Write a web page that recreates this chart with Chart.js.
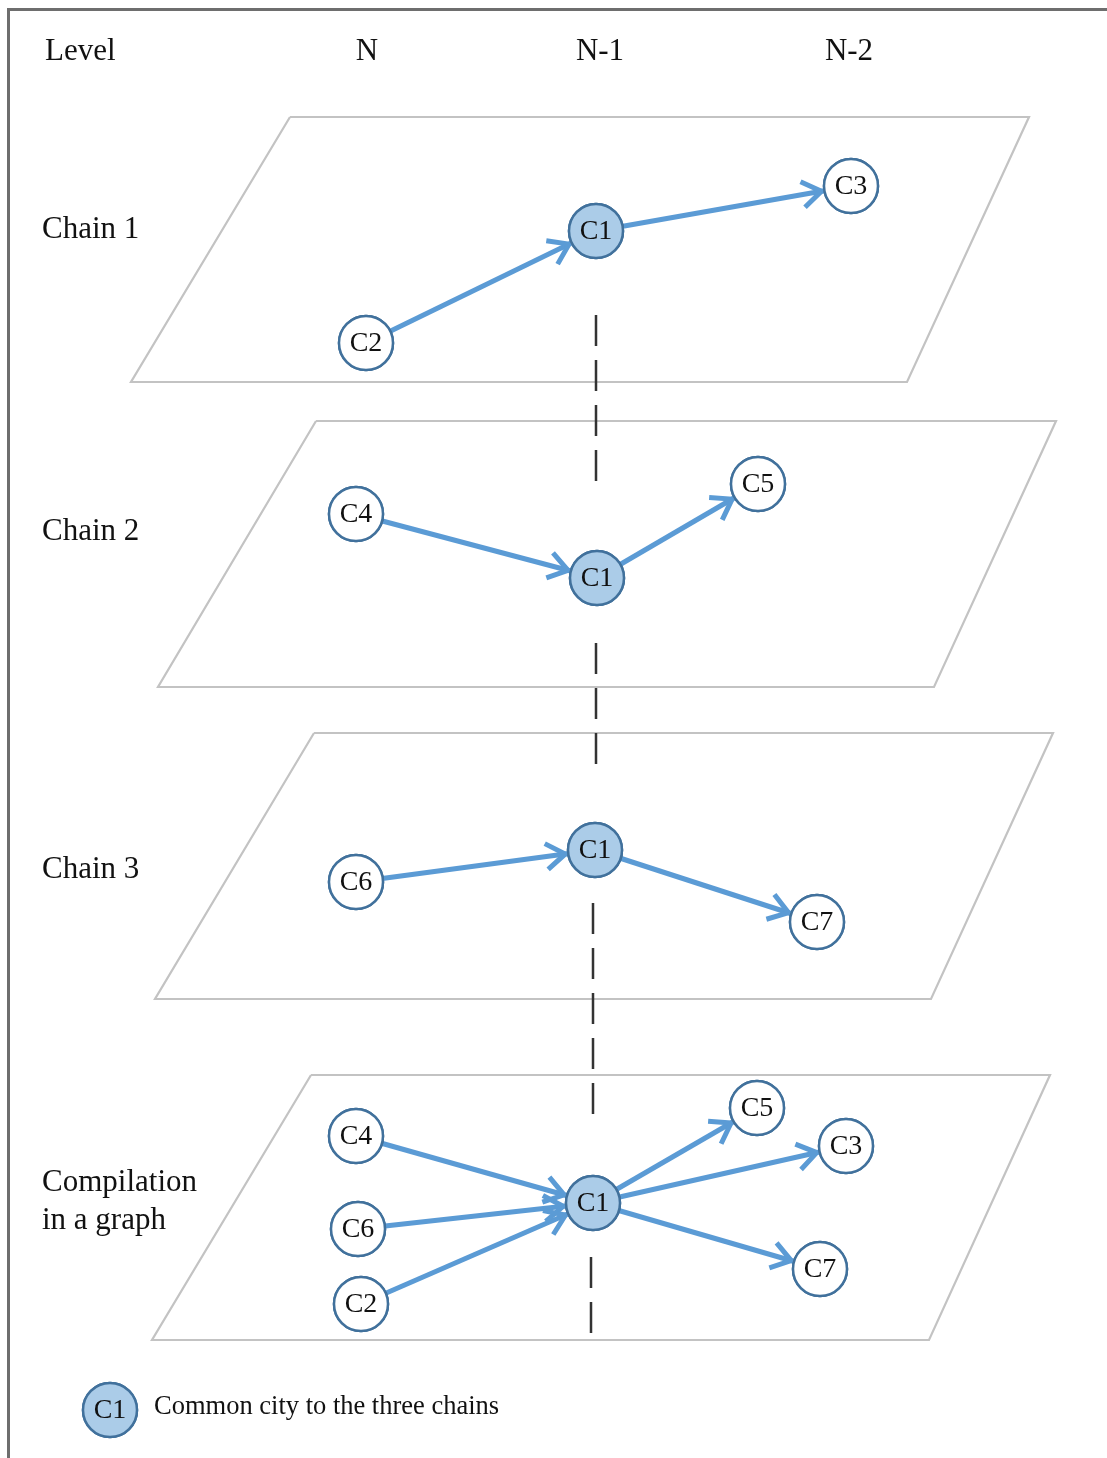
<!DOCTYPE html>
<html>
<head>
<meta charset="utf-8">
<script src="https://cdn.jsdelivr.net/npm/chart.js@4/dist/chart.umd.min.js"></script>
<style>
  body { margin: 0; background: #fff; }
  canvas { display: block; }
</style>
</head>
<body>
<canvas id="schema" width="1107" height="1458"></canvas>
<script>
// diagram space: x 0..1107, y 0..1458 (y going down)
const levelLabels = ["Level", "N", "N-1", "N-2"];
const levelX = [45, 367, 600, 849];
const levelY = 52;

const rowLabels = [["Chain 1"], ["Chain 2"], ["Chain 3"], ["Compilation", "in a graph"]];
const rowLabelY = [230, 532, 870, 1183];

// planes (parallelograms), corners in order
const plane1 = [[290, 117], [1029, 117], [907, 382], [131, 382]];
const plane2 = [[316, 421], [1056, 421], [934, 687], [158, 687]];
const plane3 = [[314, 733], [1053, 733], [931, 999], [155, 999]];
const plane4 = [[311, 1075], [1050, 1075], [929, 1340], [152, 1340]];

// cities on each plane
const chain1Names = ["C2", "C1", "C3"];
const chain1X = [366, 596, 851];
const chain1Y = [343, 231, 186];

const chain2Names = ["C4", "C1", "C5"];
const chain2X = [356, 597, 758];
const chain2Y = [514, 578, 484];

const chain3Names = ["C6", "C1", "C7"];
const chain3X = [356, 595, 817];
const chain3Y = [882, 850, 922];

const graphNames = ["C4", "C6", "C2", "C1", "C5", "C3", "C7"];
const graphX = [356, 358, 361, 593, 757, 846, 820];
const graphY = [1136, 1229, 1304, 1203, 1108, 1146, 1269];

// links (from -> to)
const chain1Links = [["C2", "C1"], ["C1", "C3"]];
const chain2Links = [["C4", "C1"], ["C1", "C5"]];
const chain3Links = [["C6", "C1"], ["C1", "C7"]];
const graphLinks = [["C4", "C1"], ["C6", "C1"], ["C2", "C1"], ["C1", "C5"], ["C1", "C3"], ["C1", "C7"]];

// vertical dashed line through C1
const dashFrom = [315, 643, 903, 1257];
const dashTo = [482, 765, 1117, 1333];
const dashX = [596, 596, 593, 591];

const commonCity = "C1";
const legendText = "Common city to the three chains";
const legendX = 110;
const legendY = 1410;

const couleurLien = "#5b9bd5";
const couleurBord = "#41719c";
const couleurCommun = "#abcce8";
const RAYON = 27;

function toPoints(names, xs, ys) {
  const pts = [];
  for (var i = 0; i < names.length; i++) {
    pts.push({ x: xs[i], y: ys[i], nom: names[i] });
  }
  return pts;
}

const planes = [
  { noeuds: toPoints(chain1Names, chain1X, chain1Y), liens: chain1Links, coins: plane1 },
  { noeuds: toPoints(chain2Names, chain2X, chain2Y), liens: chain2Links, coins: plane2 },
  { noeuds: toPoints(chain3Names, chain3X, chain3Y), liens: chain3Links, coins: plane3 },
  { noeuds: toPoints(graphNames, graphX, graphY), liens: graphLinks, coins: plane4 },
];

const datasets = [];
const arrows = [];

// nodes first so they are drawn on top
planes.forEach((p) => {
  datasets.push({
    data: p.noeuds,
    showLine: false,
    pointRadius: RAYON,
    pointHoverRadius: RAYON,
    pointBorderWidth: 2.5,
    pointBorderColor: couleurBord,
    pointBackgroundColor: p.noeuds.map((n) => (n.nom === commonCity ? couleurCommun : "#ffffff")),
    isNode: true,
  });
});
datasets.push({
  data: [{ x: legendX, y: legendY, nom: commonCity }],
  showLine: false,
  pointRadius: RAYON,
  pointHoverRadius: RAYON,
  pointBorderWidth: 2.5,
  pointBorderColor: couleurBord,
  pointBackgroundColor: couleurCommun,
  isNode: true,
});

// links
planes.forEach((p) => {
  p.liens.forEach((l) => {
    const a = p.noeuds.find((n) => n.nom === l[0]);
    const b = p.noeuds.find((n) => n.nom === l[1]);
    datasets.push({
      data: [{ x: a.x, y: a.y }, { x: b.x, y: b.y }],
      showLine: true,
      borderColor: couleurLien,
      borderWidth: 5,
      pointRadius: 0,
    });
    arrows.push([a, b]);
  });
});

// dashed line
for (var i = 0; i < dashFrom.length; i++) {
  datasets.push({
    data: [{ x: dashX[i], y: dashFrom[i] }, { x: dashX[i], y: dashTo[i] }],
    showLine: true,
    borderColor: "#333333",
    borderWidth: 2.5,
    borderDash: [31, 14],
    pointRadius: 0,
  });
}

// planes
planes.forEach((p) => {
  const pts = p.coins.concat([p.coins[0]]).map((c) => ({ x: c[0], y: c[1] }));
  datasets.push({
    data: pts,
    showLine: true,
    borderColor: "#c3c3c3",
    borderWidth: 2.2,
    pointRadius: 0,
    tension: 0,
  });
});

// outer frame (left and top)
datasets.push({
  data: [{ x: 8.5, y: 1458 }, { x: 8.5, y: 9.5 }, { x: 1107, y: 9.5 }],
  showLine: true,
  borderColor: "#6e6e6e",
  borderWidth: 3,
  pointRadius: 0,
});

const pluginTextes = {
  id: "textes",
  afterDatasetsDraw(chart) {
    const ctx = chart.ctx;
    const sx = chart.scales.x;
    const sy = chart.scales.y;

    // arrow heads
    ctx.save();
    ctx.strokeStyle = couleurLien;
    ctx.lineWidth = 5;
    ctx.lineCap = "butt";
    ctx.lineJoin = "miter";
    arrows.forEach((ar) => {
      const x1 = sx.getPixelForValue(ar[0].x), y1 = sy.getPixelForValue(ar[0].y);
      const x2 = sx.getPixelForValue(ar[1].x), y2 = sy.getPixelForValue(ar[1].y);
      const ang = Math.atan2(y2 - y1, x2 - x1);
      const tx = x2 - Math.cos(ang) * (RAYON + 3);
      const ty = y2 - Math.sin(ang) * (RAYON + 3);
      const len = 23, ouv = 0.6;
      ctx.beginPath();
      ctx.moveTo(tx - Math.cos(ang - ouv) * len, ty - Math.sin(ang - ouv) * len);
      ctx.lineTo(tx, ty);
      ctx.lineTo(tx - Math.cos(ang + ouv) * len, ty - Math.sin(ang + ouv) * len);
      ctx.stroke();
    });
    ctx.restore();

    // redraw nodes over arrow tips
    ctx.save();
    chart.data.datasets.forEach((ds, di) => {
      if (!ds.isNode) return;
      const meta = chart.getDatasetMeta(di);
      meta.data.forEach((pt, k) => {
        ctx.beginPath();
        ctx.arc(pt.x, pt.y, RAYON, 0, Math.PI * 2);
        ctx.fillStyle = ds.data[k].nom === commonCity ? couleurCommun : "#ffffff";
        ctx.fill();
        ctx.lineWidth = 2.5;
        ctx.strokeStyle = couleurBord;
        ctx.stroke();
        ctx.fillStyle = "#111111";
        ctx.font = "28px 'Liberation Serif'";
        ctx.textAlign = "center";
        ctx.textBaseline = "middle";
        ctx.fillText(ds.data[k].nom, pt.x, pt.y + 1);
      });
    });
    ctx.restore();

    ctx.save();
    ctx.fillStyle = "#111111";
    ctx.textBaseline = "middle";
    ctx.font = "31px 'Liberation Serif'";
    for (var i = 0; i < levelLabels.length; i++) {
      ctx.textAlign = i === 0 ? "left" : "center";
      ctx.fillText(levelLabels[i], sx.getPixelForValue(levelX[i]), sy.getPixelForValue(levelY));
    }
    ctx.textAlign = "left";
    for (var j = 0; j < rowLabels.length; j++) {
      rowLabels[j].forEach((ligne, k) => {
        ctx.fillText(ligne, sx.getPixelForValue(42), sy.getPixelForValue(rowLabelY[j] + k * 38));
      });
    }
    ctx.font = "26.5px 'Liberation Serif'";
    ctx.fillText(legendText, sx.getPixelForValue(154), sy.getPixelForValue(legendY - 3));
    ctx.restore();
  },
};

const graphique = document.getElementById("schema");
const chart = new Chart(graphique, {
  type: "scatter",
  data: { datasets: datasets },
  options: {
    responsive: false,
    animation: false,
    events: [],
    layout: { padding: 0, autoPadding: false },
    elements: { line: { tension: 0 } },
    datasets: { scatter: { clip: false } },
    plugins: { legend: { display: false }, tooltip: { enabled: false } },
    scales: {
      x: { type: "linear", min: 0, max: 1107, display: false },
      y: { type: "linear", min: 0, max: 1458, reverse: true, display: false },
    },
  },
  plugins: [pluginTextes],
});
</script>
</body>
</html>
